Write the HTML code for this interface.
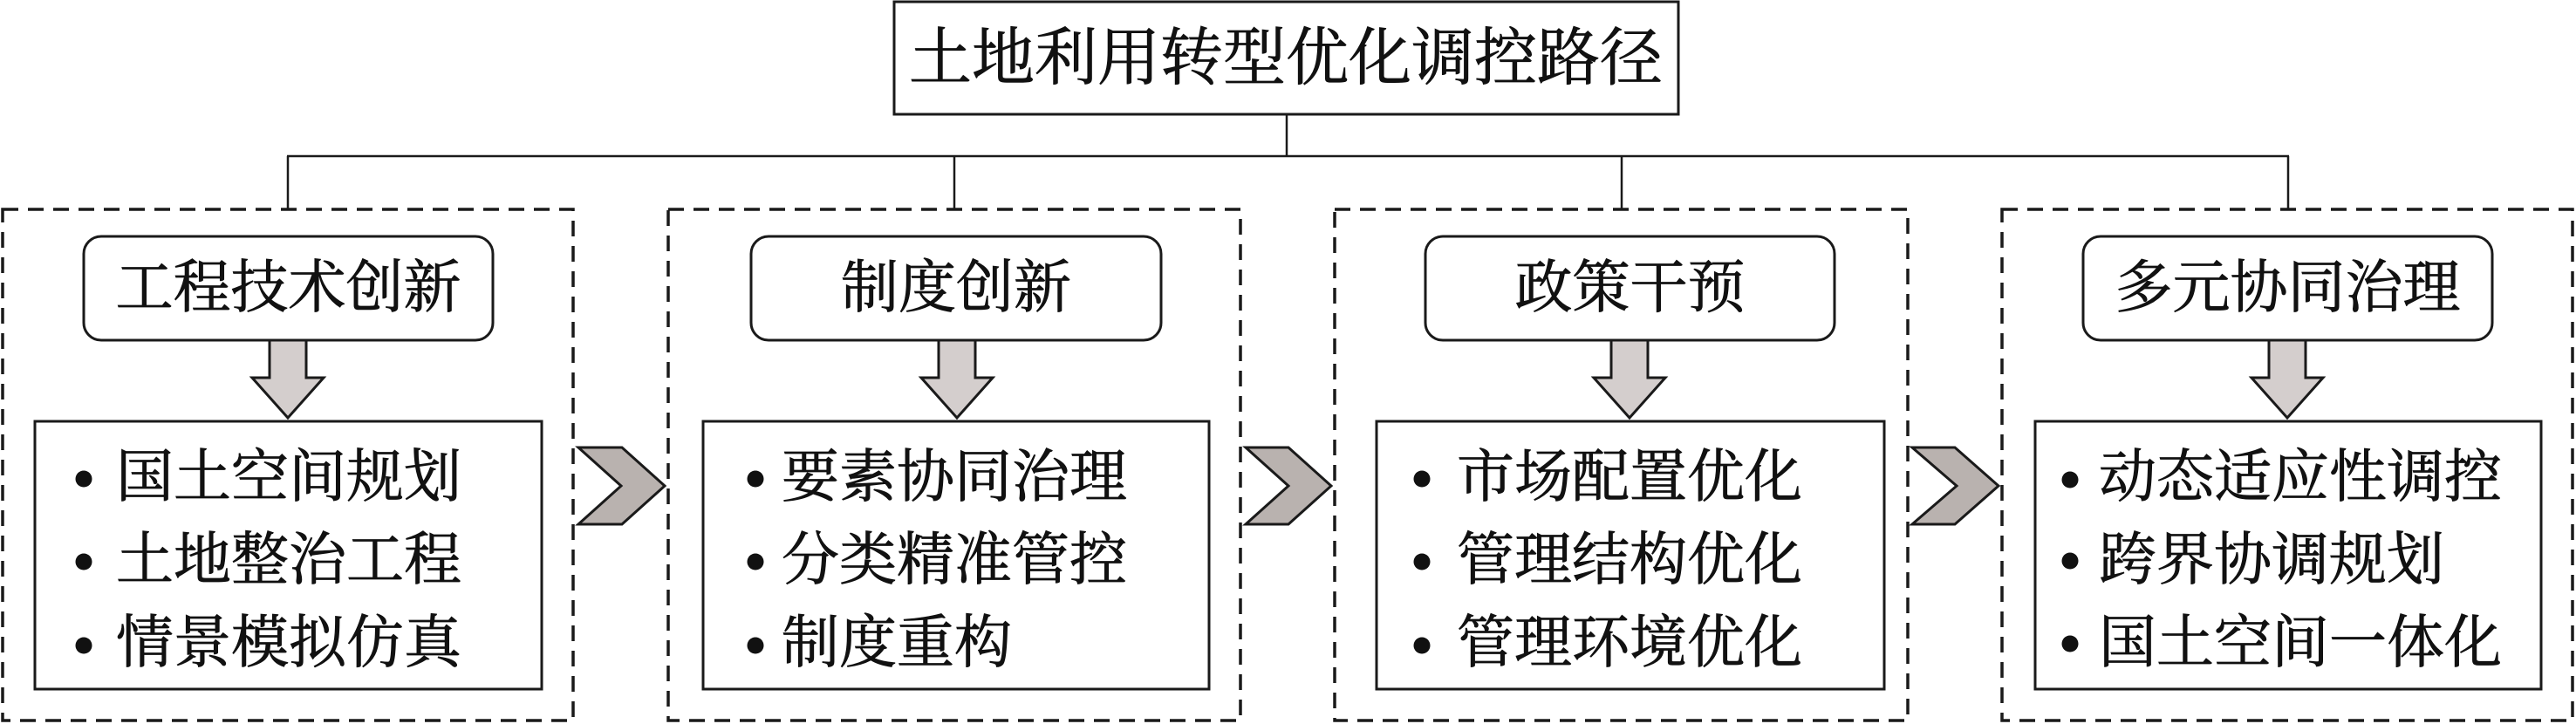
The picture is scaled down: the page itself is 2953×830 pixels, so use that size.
<!DOCTYPE html>
<html>
<head>
<meta charset="utf-8">
<style>
  html,body{margin:0;padding:0;background:#fff;}
  body{width:2953px;height:830px;overflow:hidden;}
  svg{display:block;}
  text{font-family:"Liberation Serif","Noto Serif CJK SC",serif;fill:#111;stroke:#111;stroke-width:0.8px;}
</style>
</head>
<body>
<svg width="2953" height="830" viewBox="0 0 2953 830" xmlns="http://www.w3.org/2000/svg">
  <rect x="0" y="0" width="2953" height="830" fill="#fff"/>

  <!-- Title -->
  <rect x="1025" y="2" width="899" height="129" fill="#fff" stroke="#1a1a1a" stroke-width="3"/>
  <text x="1474" y="91" font-size="72" text-anchor="middle">土地利用转型优化调控路径</text>

  <!-- connectors -->
  <g stroke="#1a1a1a" stroke-width="2.5" fill="none">
    <line x1="1475" y1="131" x2="1475" y2="179"/>
    <line x1="329" y1="179" x2="2624" y2="179"/>
    <line x1="330" y1="179" x2="330" y2="240"/>
    <line x1="1094" y1="179" x2="1094" y2="240"/>
    <line x1="1859" y1="179" x2="1859" y2="240"/>
    <line x1="2623" y1="179" x2="2623" y2="240"/>
  </g>

  <!-- dashed group boxes -->
  <g stroke="#1a1a1a" stroke-width="3.5" fill="none" stroke-dasharray="18 11">
    <rect x="3" y="240" width="654" height="586"/>
    <rect x="766" y="240" width="656" height="586"/>
    <rect x="1530" y="240" width="657" height="586"/>
    <rect x="2295" y="240" width="654" height="586"/>
  </g>

  <!-- header rounded boxes -->
  <g stroke="#1a1a1a" stroke-width="3" fill="#fff">
    <rect x="96" y="271" width="469" height="119" rx="20" ry="20"/>
    <rect x="861" y="271" width="470" height="119" rx="20" ry="20"/>
    <rect x="1634" y="271" width="469" height="119" rx="20" ry="20"/>
    <rect x="2388" y="271" width="469" height="119" rx="20" ry="20"/>
  </g>
  <g font-size="66" text-anchor="middle">
    <text x="330.5" y="352">工程技术创新</text>
    <text x="1096" y="352">制度创新</text>
    <text x="1868.5" y="352">政策干预</text>
    <text x="2622.5" y="352">多元协同治理</text>
  </g>

  <!-- down arrows -->
  <g stroke="#1a1a1a" stroke-width="3" fill="#d4cecd" stroke-linejoin="miter">
    <polygon points="309,390 351,390 351,433 371,433 330,479 289,433 309,433"/>
    <polygon points="1076,390 1118,390 1118,433 1138,433 1097,479 1056,433 1076,433"/>
    <polygon points="1847,390 1889,390 1889,433 1909,433 1868,479 1827,433 1847,433"/>
    <polygon points="2601,390 2643,390 2643,433 2663,433 2622,479 2581,433 2601,433"/>
  </g>

  <!-- content boxes -->
  <g stroke="#1a1a1a" stroke-width="3" fill="#fff">
    <rect x="40" y="483" width="581" height="307"/>
    <rect x="806" y="483" width="580" height="307"/>
    <rect x="1578" y="483" width="582" height="307"/>
    <rect x="2333" y="483" width="580" height="307"/>
  </g>

  <!-- bullets -->
  <g fill="#111">
    <circle cx="96" cy="549" r="9.5"/><circle cx="96" cy="644" r="9.5"/><circle cx="96" cy="740" r="9.5"/>
    <circle cx="866" cy="549" r="9.5"/><circle cx="866" cy="644" r="9.5"/><circle cx="866" cy="740" r="9.5"/>
    <circle cx="1630" cy="549" r="9.5"/><circle cx="1630" cy="644" r="9.5"/><circle cx="1630" cy="740" r="9.5"/>
    <circle cx="2373" cy="550" r="9.5"/><circle cx="2373" cy="643" r="9.5"/><circle cx="2373" cy="738" r="9.5"/>
  </g>

  <g font-size="66">
    <text x="133" y="569">国土空间规划</text>
    <text x="133" y="664">土地整治工程</text>
    <text x="133" y="759">情景模拟仿真</text>

    <text x="896" y="569">要素协同治理</text>
    <text x="896" y="664">分类精准管控</text>
    <text x="896" y="759">制度重构</text>

    <text x="1670" y="569">市场配置优化</text>
    <text x="1670" y="664">管理结构优化</text>
    <text x="1670" y="759">管理环境优化</text>

    <text x="2406" y="569">动态适应性调控</text>
    <text x="2406" y="664">跨界协调规划</text>
    <text x="2406" y="759">国土空间一体化</text>
  </g>

  <!-- chevrons -->
  <g stroke="#1a1a1a" stroke-width="3" fill="#b9b2af" stroke-linejoin="miter">
    <polygon points="663,513 713,513 762,557 713,601 663,601 712,557"/>
    <polygon points="1428,513 1477,513 1526,557 1477,601 1428,601 1477,557"/>
    <polygon points="2192,513 2241,513 2291,557 2241,601 2192,601 2243,557"/>
  </g>
</svg>
</body>
</html>
